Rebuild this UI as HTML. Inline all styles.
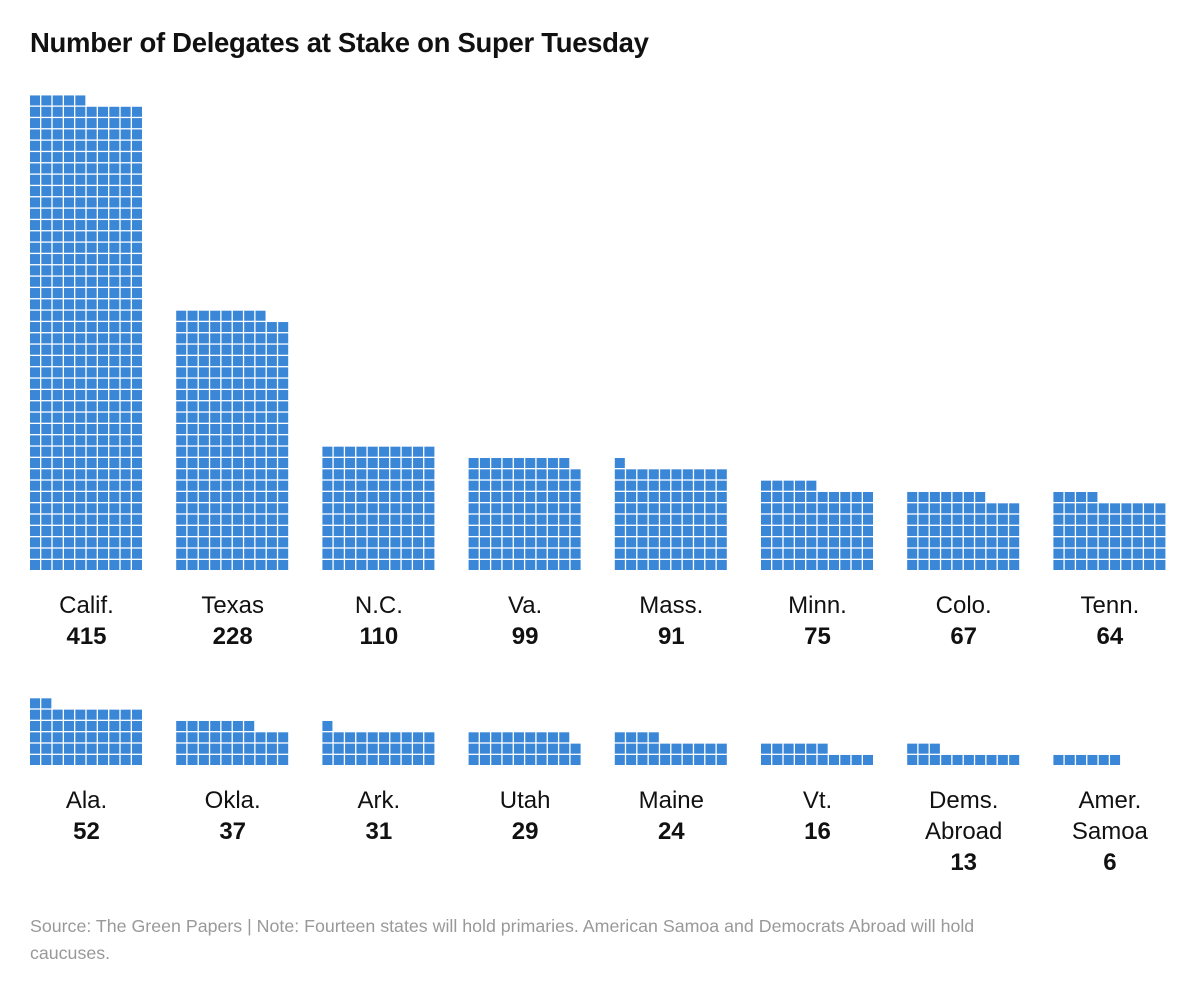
<!DOCTYPE html>
<html><head><meta charset="utf-8">
<style>
body{margin:0;background:#fff;width:1200px;height:993px;overflow:hidden;font-family:"Liberation Sans",sans-serif;}
#title{position:absolute;left:30px;top:27px;font-size:27.5px;font-weight:bold;color:#111;letter-spacing:-0.3px;}
.lbl{position:absolute;width:146px;text-align:center;font-size:24px;color:#111;line-height:31px;}
.lbl b{font-weight:bold;}
#src{position:absolute;left:30px;top:913px;width:1000px;font-size:17.8px;line-height:27px;color:#999;}
</style></head><body>
<div id="title">Number of Delegates at Stake on Super Tuesday</div>
<svg id="chart" width="1200" height="900" style="position:absolute;left:0;top:0"></svg>
<div id="labels"></div>
<div id="src">Source: The Green Papers | Note: Fourteen states will hold primaries. American Samoa and Democrats Abroad will hold<br>caucuses.</div>
<script>
const states1=["Calif.","Texas","N.C.","Va.","Mass.","Minn.","Colo.","Tenn."];
const values1=[415,228,110,99,91,75,67,64];
const states2=["Ala.","Okla.","Ark.","Utah","Maine","Vt.","Dems.<br>Abroad","Amer.<br>Samoa"];
const values2=[52,37,31,29,24,16,13,6];
const svg=document.getElementById('chart');
const NS="http://www.w3.org/2000/svg";
const cell=11.33,x0=30,colW=146.2;
function drawRow(states,values,baseY,labelY,rowName){
  values.forEach((v,i)=>{
    const g=document.createElementNS(NS,'g');
    
    
    const left=x0+i*colW;
    for(let k=0;k<v;k++){
      const r=Math.floor(k/10),c=k%10;
      const rect=document.createElementNS(NS,'rect');
      rect.setAttribute('x',left+c*cell);
      rect.setAttribute('y',baseY-(r+1)*cell);
      rect.setAttribute('width',cell-1.3);
      rect.setAttribute('height',cell-1.3);
      rect.setAttribute('fill','#3b87d7');
      
      
      g.appendChild(rect);
    }
    svg.appendChild(g);
    const d=document.createElement('div');
    d.className='lbl';
    
    
    d.style.left=(left+56.5-73)+'px';
    d.style.top=labelY+'px';
    d.innerHTML=states[i]+'<br><b>'+v+'</b>';
    document.getElementById('labels').appendChild(d);
  });
}
drawRow(states1,values1,571.3,590,'row1');
drawRow(states2,values2,766.3,785,'row2');
</script>
</body></html>
